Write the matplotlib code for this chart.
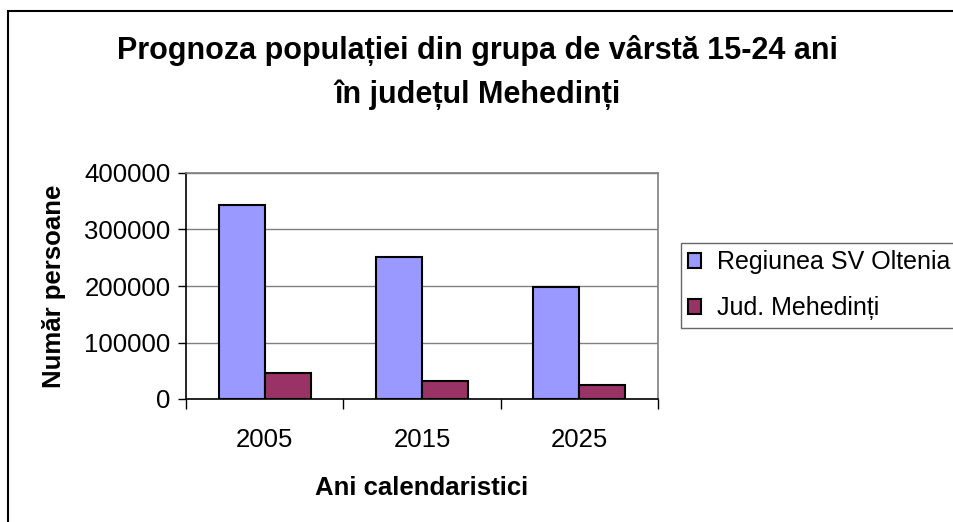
import numpy as np
import matplotlib.pyplot as plt
from matplotlib.patches import Rectangle

# data
years = ["2005", "2015", "2025"]
oltenia = [343000, 251000, 198000]
mehedinti = [46500, 32500, 25000]
series_names = ["Regiunea SV Oltenia", "Jud. Mehedinți"]

plt.rcParams["font.family"] = ["Liberation Sans", "DejaVu Sans"]

fig = plt.figure(figsize=(9.54, 5.22), dpi=100)

""" outer chart frame (partly cut off at right/bottom) """
fig.patches.append(Rectangle((8 / 954, -0.1), 1.2, 1 - 11 / 522 + 0.1, transform=fig.transFigure,
                             fill=False, edgecolor="black", linewidth=1.5, zorder=0))

ax = fig.add_axes([186 / 954, 1 - 399 / 522, (658 - 186) / 954, (399 - 173) / 522])

x = np.arange(len(years))
w = 0.292
b1 = ax.bar(x - w / 2, oltenia, w, color="#9999FF", edgecolor="black", linewidth=1.5, zorder=3,
            label=series_names[0])
b2 = ax.bar(x + w / 2, mehedinti, w, color="#993366", edgecolor="black", linewidth=1.5, zorder=3,
            label=series_names[1])

ax.set_xlim(-0.5, 2.5)
ax.set_ylim(0, 400000)
ax.set_yticks(np.arange(0, 400001, 100000))
ax.set_yticklabels([str(v) for v in range(0, 400001, 100000)], fontsize=18.5)
ax.yaxis.grid(True, color="#808080", linewidth=1, zorder=0)

ax.set_xticks(x)
ax.set_xticklabels(years, fontsize=18.5)
ax.set_xticks(np.arange(-0.5, 3, 1), minor=True)
ax.tick_params(axis="x", which="major", length=0, pad=21)
ax.tick_params(axis="x", which="minor", length=7, width=1, color="black")
ax.tick_params(axis="y", length=6, width=1, pad=5)

for s in ["left", "bottom"]:
    ax.spines[s].set_color("black")
    ax.spines[s].set_linewidth(1.2)
for s in ["top", "right"]:
    ax.spines[s].set_color("#808080")
    ax.spines[s].set_linewidth(1.2)

ax.set_xlabel("Ani calendaristici", fontsize=18.5, fontweight="bold", labelpad=17)
ax.set_ylabel("Număr persoane", fontsize=18.5, fontweight="bold", labelpad=13)

fig.text(0.5, 1 - 50 / 522, "Prognoza populației din grupa de vârstă 15-24 ani",
         ha="center", va="center", fontsize=22, fontweight="bold")
fig.text(0.5, 1 - 95 / 522, "în județul Mehedinți",
         ha="center", va="center", fontsize=22, fontweight="bold")

leg = fig.legend(handles=[b1, b2], loc="upper left", bbox_to_anchor=(681 / 954, 1 - 243 / 522),
                 fontsize=18, frameon=True, fancybox=False, borderpad=0.3, labelspacing=0.88,
                 handlelength=0.5, handleheight=0.5, handletextpad=0.65, borderaxespad=0)
leg.get_frame().set_edgecolor("#404040")
leg.get_frame().set_linewidth(1)

plt.savefig("out.png", dpi=100)
